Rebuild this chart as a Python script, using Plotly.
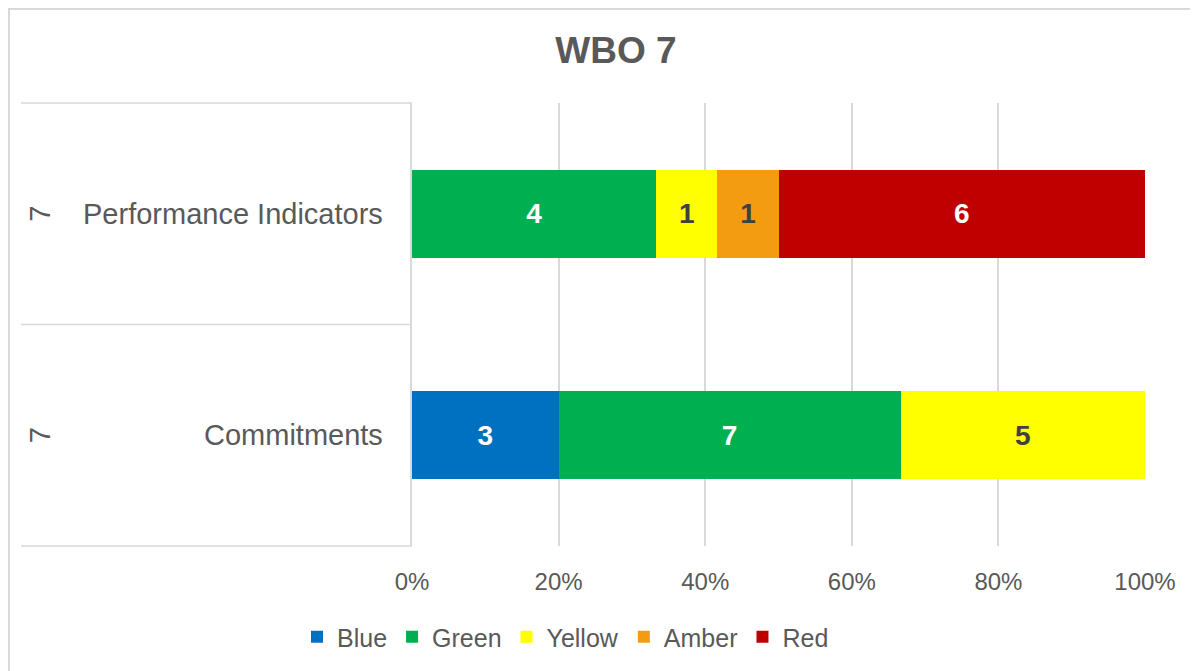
import plotly.graph_objects as go

categories = ["Commitments", "Performance Indicators"]
group_labels = ["7", "7"]
series_names = ["Blue", "Green", "Yellow", "Amber", "Red"]
blue = [3, 0]
green = [7, 4]
yellow = [5, 1]
amber = [0, 1]
red = [0, 6]
series_values = [blue, green, yellow, amber, red]
series_colors = ["#0070C0", "#00B050", "#FFFF00", "#F39C12", "#C00000"]
label_colors = ["#FFFFFF", "#FFFFFF", "#404040", "#404040", "#FFFFFF"]
tick_vals = [0, 20, 40, 60, 80, 100]
tick_text = ["0%", "20%", "40%", "60%", "80%", "100%"]

# page body has an 8px margin; figure coordinates = reference pixel - OFF
OFF = 8
W, H = 1198 - OFF, 671 - OFF
L, R, T, B = 412 - OFF, 1198 - 1145, 103 - OFF, 671 - 546
pw = W - L - R
ph = H - T - B

def px_x(x):
    return (x - OFF - L) / pw

def px_y(y):
    return 1 - (y - OFF - T) / ph

fig = go.Figure()
for name, vals, col, lc in zip(series_names, series_values, series_colors, label_colors):
    fig.add_trace(go.Bar(
        y=categories, x=vals, name=name, orientation="h",
        marker=dict(color=col, line=dict(width=0)),
        text=[str(v) if v else "" for v in vals],
        texttemplate="<b>%{text}</b>",
        textposition="inside", insidetextanchor="middle", textangle=0,
        insidetextfont=dict(family="Liberation Sans, Arial", size=28, color=lc),
        constraintext="none",
        hoverinfo="skip",
    ))

grey_text = "#595959"
line_col = "#D9D9D9"

fig.update_layout(
    width=W, height=H,
    margin=dict(l=L, r=R, t=T, b=B),
    barmode="stack", barnorm="percent", bargap=0.603,
    plot_bgcolor="white", paper_bgcolor="white",
    font=dict(family="Liberation Sans, Arial", color=grey_text),
    title=dict(text="<b>WBO 7</b>", xref="container", x=(616 - OFF) / W, xanchor="center",
               yref="container", y=1 - (50 - OFF) / H, yanchor="middle",
               font=dict(size=37, color=grey_text)),
    xaxis=dict(range=[0, 100], tickvals=tick_vals, ticktext=tick_text,
               showgrid=True, gridcolor=line_col, gridwidth=1.5,
               zeroline=False, showline=False,
               ticks="outside", ticklen=14, tickcolor="rgba(0,0,0,0)",
               tickfont=dict(size=24, color=grey_text), fixedrange=True),
    yaxis=dict(showticklabels=False, showgrid=False, zeroline=False,
               showline=True, linecolor=line_col, linewidth=1.5, fixedrange=True),
    legend=dict(orientation="h", xref="container", x=(0.5 * (323 + 808) - OFF) / W, xanchor="center",
                yref="container", y=1 - (637 - OFF) / H, yanchor="middle",
                font=dict(size=25, color=grey_text), itemwidth=30,
                traceorder="normal"),
    showlegend=True,
)

# category labels
for cat, grp in zip(categories, group_labels):
    fig.add_annotation(x=px_x(385), y=cat, xref="paper", yref="y",
                       text=cat, showarrow=False, xanchor="right", yanchor="middle",
                       font=dict(size=29, color=grey_text))
    fig.add_annotation(x=px_x(40), y=cat, xref="paper", yref="y",
                       text=grp, showarrow=False, xanchor="center", yanchor="middle",
                       textangle=-90, font=dict(size=29, color=grey_text))

# category divider lines
for yy in [0, 0.5, 1]:
    fig.add_shape(type="line", xref="paper", yref="paper", x0=px_x(21), x1=0, y0=yy, y1=yy,
                  line=dict(color=line_col, width=1.5))

# chart frame (top and left edges)
fig.add_shape(type="line", xref="paper", yref="paper",
              x0=px_x(OFF), x1=px_x(1198 + 5), y0=px_y(OFF + 1), y1=px_y(OFF + 1),
              line=dict(color=line_col, width=2))
fig.add_shape(type="line", xref="paper", yref="paper",
              x0=px_x(OFF + 1), x1=px_x(OFF + 1), y0=px_y(OFF), y1=px_y(680),
              line=dict(color=line_col, width=2))

fig.write_html("out.html")
